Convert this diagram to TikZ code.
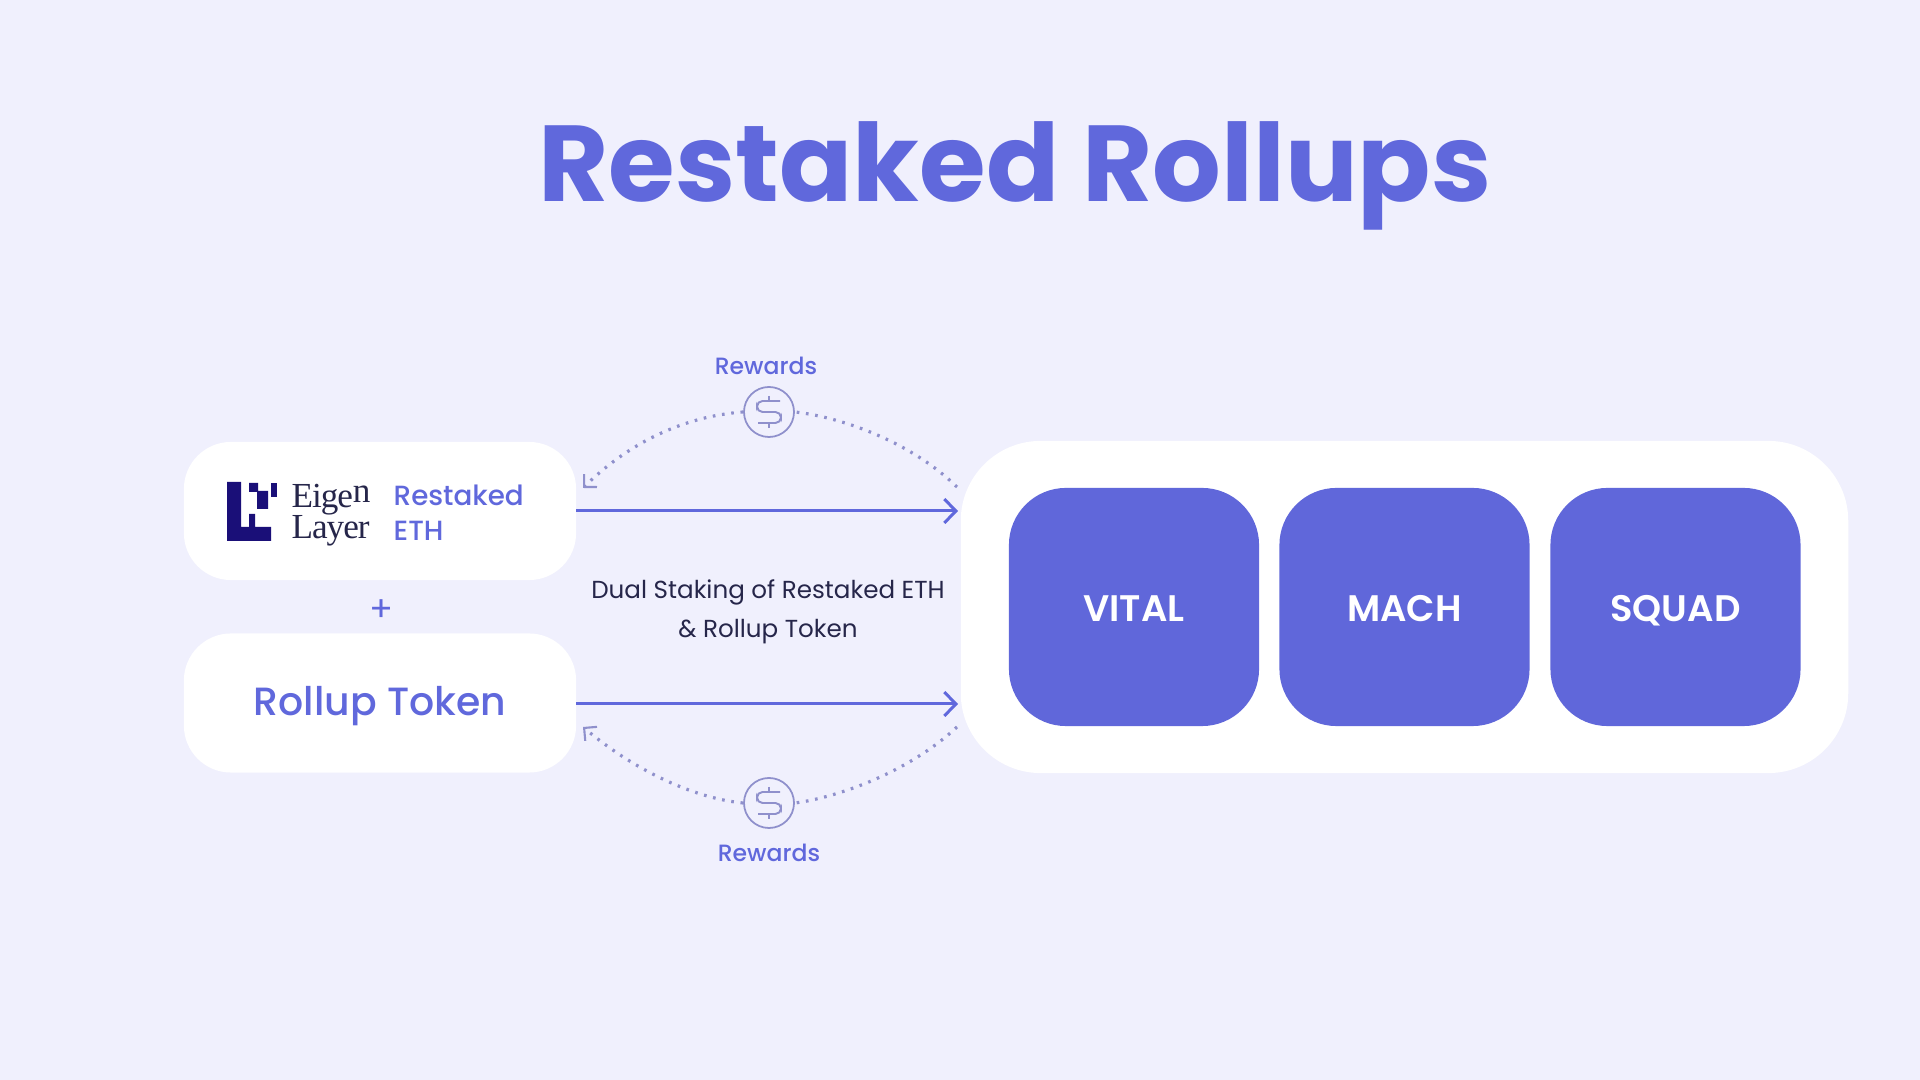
\documentclass[tikz,border=0pt]{standalone}
\usepackage{fontspec}
\setmainfont{Poppins}
\newfontfamily\medfont{Poppins Medium}
\newfontfamily\semifont{Poppins SemiBold}
\newfontfamily\logofont[LetterSpace=-3]{Liberation Serif}
\usetikzlibrary{arrows.meta,positioning}
\definecolor{pagebg}{HTML}{F0F0FD}
\definecolor{brandblue}{HTML}{6068DC}
\definecolor{tileblue}{HTML}{6067DA}
\definecolor{dotgrey}{HTML}{8F90CC}
\definecolor{inkdark}{HTML}{26264A}
\definecolor{logonavy}{HTML}{1A0F78}
\tikzset{
  card/.style={fill=white,rounded corners=0.47cm,inner sep=0pt},
  tile/.style={fill=tileblue,rounded corners=0.57cm,minimum width=2.5cm,minimum height=2.38cm,
    text=white,text height=8.3pt,text depth=0pt,font=\semifont\fontsize{10.5}{12}\selectfont},
  stakearrow/.style={draw=brandblue,line width=0.85pt,-{Straight Barb[length=3.3pt,width=6.8pt,line width=0.85pt]}},
  rewardline/.style={draw=dotgrey,line width=0.9pt,dash pattern=on 0.75pt off 1.9pt},
  rewardtip/.style={-{Straight Barb[length=2.6pt,width=5.2pt,line width=0.6pt]}},
  rewardlabel/.style={text=brandblue,font=\medfont\fontsize{6.7}{9}\selectfont},
  coin/.style={circle,draw=dotgrey,line width=0.5pt,minimum size=0.5cm,inner sep=0pt},
  logotext/.style={text=inkdark,anchor=base west,inner sep=0pt,font=\logofont\fontsize{10}{10}\selectfont}
}
\begin{document}
\begin{tikzpicture}[x=0.01cm,y=-0.01cm]
  \fill[pagebg] (0,0) rectangle (1920,1080);
  \useasboundingbox (0,0) rectangle (1920,1080);
  % title
  \node[text=brandblue,anchor=base,font=\fontsize{30.7}{38}\selectfont\bfseries] (title) at (1015,202) {Restaked Rollups};
  % left cards
  \node[card,minimum width=3.92cm,minimum height=1.38cm] (eigencard) at (380,511) {};
  \node[card,minimum width=3.92cm,minimum height=1.39cm] (tokencard) at (380,703) {};
  \node[text=brandblue,font=\medfont\fontsize{11.2}{15}\selectfont] (tokenlabel) at (380,706) {Rollup Token};
  \node[text=brandblue,font=\fontsize{10}{12}\selectfont] (plus) at (382,611) {+};
  % logo
  \fill[logonavy] (227,482) -- (241,482) -- (241,527) -- (249,527) -- (249,514) -- (255,514) -- (255,527)
    -- (271,527) -- (271,541) -- (227,541) -- cycle;
  \fill[logonavy] (249,483) -- (258,483) -- (258,491) -- (268,491) -- (268,509) -- (257,509) -- (257,492) -- (249,492) -- cycle;
  \fill[logonavy] (271,483) -- (277,483) -- (277,497) -- (271,497) -- cycle;
  \node[logotext] (eigentext) at (291,508) {Eige\raisebox{1.5pt}{n}};
  \node[logotext] (layertext) at (291,539) {Layer};
  \node[text=brandblue,anchor=west,inner sep=0pt,font=\medfont\fontsize{7.9}{10}\selectfont,align=left] (restaked) at (393,513) {Restaked\\ETH};
  % right card with tiles
  \node[card,rounded corners=0.8cm,minimum width=8.87cm,minimum height=3.32cm] (appcard) at (1404.5,607) {};
  \node[tile] (vital) at (1134,607) {VITAL};
  \node[tile] (mach) at (1404.5,607) {MACH};
  \node[tile] (squad) at (1675.5,607) {SQUAD};
  % staking arrows
  \coordinate (topstart) at (576,511);
  \coordinate (topend) at (958,511);
  \coordinate (botstart) at (576,704);
  \coordinate (botend) at (958,704);
  \draw[stakearrow] (topstart) -- (topend);
  \draw[stakearrow] (botstart) -- (botend);
  \node[text=inkdark,font=\fontsize{7}{11}\selectfont,align=center] (dualtext) at (768,611.5) {Dual Staking of Restaked ETH\\\& Rollup Token};
  % rewards on top
  \node[coin] (coinTop) at (769,412) {};
  \node[rewardlabel] (rewardsTop) at (766,366) {Rewards};
  \coordinate (topright) at (957,487);
  \coordinate (topleft) at (583,488);
  \draw[rewardline] (topright) .. controls (910,441) and (840,417) .. (coinTop.east);
  \draw[rewardline,rewardtip] (coinTop.west) .. controls (700,415) and (640,432) .. (topleft);
  % rewards below
  \node[coin] (coinBot) at (769,803) {};
  \node[rewardlabel] (rewardsBot) at (769,853) {Rewards};
  \coordinate (botright) at (957,727);
  \coordinate (botleft) at (583,727);
  \draw[rewardline] (botright) .. controls (910,771) and (840,797) .. (coinBot.east);
  \draw[rewardline,rewardtip] (coinBot.west) .. controls (700,799) and (640,775) .. (botleft);
  % dollar signs
  \foreach \c in {coinTop,coinBot}{
    \begin{scope}[shift={(\c)},draw=dotgrey,line width=0.55pt]
      \draw[rounded corners=0.055cm] (11,-11) -- (-12,-11) -- (-12,0) -- (12,0) -- (12,11) -- (-11,11);
      \draw (0,-16) -- (0,-11) (0,11) -- (0,16);
    \end{scope}
  }
\end{tikzpicture}
\end{document}
